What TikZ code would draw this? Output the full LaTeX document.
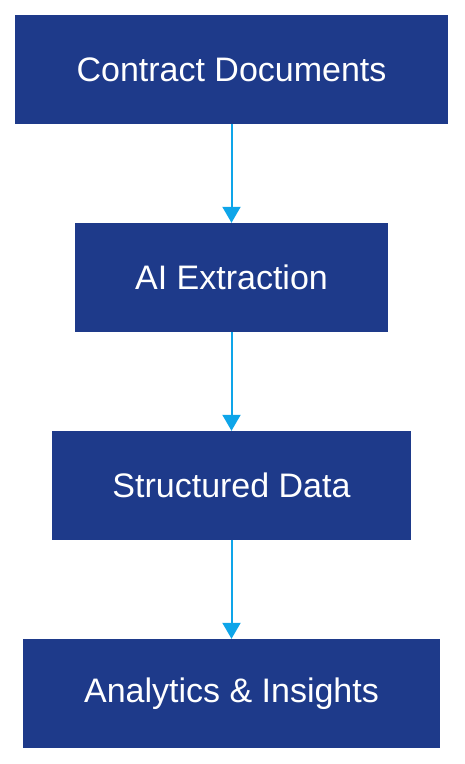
\documentclass[tikz,border=0pt]{standalone}
\usepackage{fontspec}
\setmainfont{Liberation Sans}
\usetikzlibrary{arrows.meta}
\definecolor{navy}{HTML}{1E3A8A}
\definecolor{skyb}{HTML}{0EA5E9}
\begin{document}
\begin{tikzpicture}[x=1pt,y=-1pt,
  box/.style={fill=navy,draw=none,text=white,font=\fontsize{34}{40}\selectfont,inner sep=0pt,anchor=center,minimum height=109pt},
  conn/.style={draw=skyb,line width=2pt,-{Triangle[width=18pt,length=16pt]}}]
\useasboundingbox (0,0) rectangle (464,764);
\node[box,minimum width=433pt] (n1) at (231.5,69.5) {Contract Documents};
\node[box,minimum width=313pt] (n2) at (231.5,277.5) {AI Extraction};
\node[box,minimum width=359pt] (n3) at (231.5,485.5) {Structured Data};
\node[box,minimum width=417pt] (n4) at (231.5,693.5) {Analytics \& Insights};
\draw[conn] (n1.south) -- (n2.north);
\draw[conn] (n2.south) -- (n3.north);
\draw[conn] (n3.south) -- (n4.north);
\end{tikzpicture}
\end{document}
